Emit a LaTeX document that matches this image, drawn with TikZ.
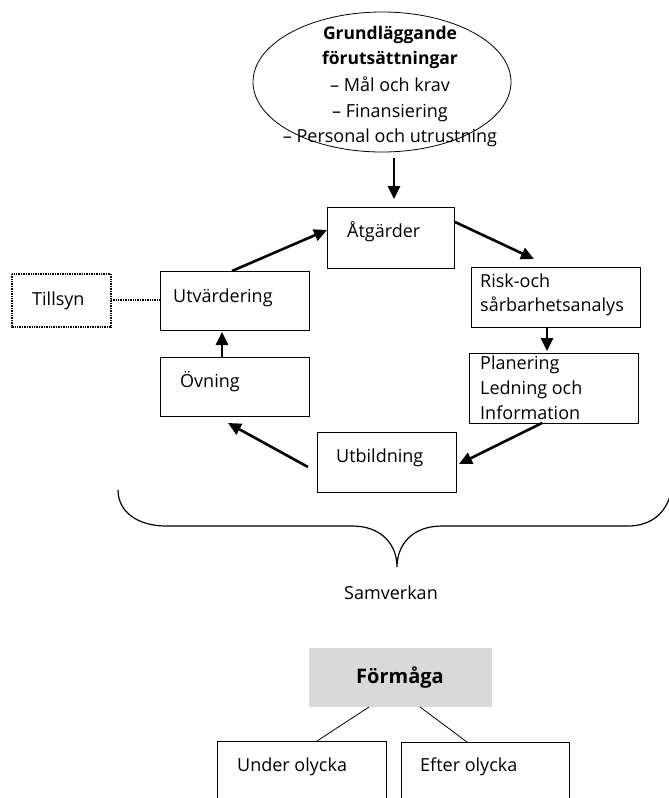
\documentclass[tikz,border=0pt]{standalone}
\usepackage{fontspec}
\setmainfont{Open Sans}
\usetikzlibrary{arrows.meta,shapes.geometric}
\definecolor{boxgray}{HTML}{D9D9D9}
\tikzset{
  bx/.style={draw=black,line width=0.9pt},
  dotline/.style={line width=1.4pt,dash pattern=on 1pt off 0.7pt},
  dbx/.style={draw=black,dotline},
  flow/.style={line width=2.6pt,-{Triangle[length=13pt,width=12pt]}},
  txt/.style={anchor=base west,inner sep=0pt,font=\fontsize{18}{21}\selectfont},
  ctxt/.style={anchor=base,inner sep=0pt,font=\fontsize{18}{21}\selectfont},
}
\begin{document}
\begin{tikzpicture}[x=1pt,y=-1pt]
\useasboundingbox (0,0) rectangle (669,798);
% ellipse
\node[draw=black,line width=0.8pt,ellipse,minimum width=258pt,minimum height=140pt] (ell) at (382,82) {};
\node[ctxt,font=\fontsize{17.5}{21}\selectfont\bfseries] (e1) at (390,39) {Grundläggande};
\node[ctxt,font=\fontsize{17.5}{21}\selectfont\bfseries] (e2) at (390,64) {förutsättningar};
\node[ctxt] (e3) at (390,91) {– Mål och krav};
\node[ctxt] (e4) at (390,117) {– Finansiering};
\node[ctxt] (e5) at (390,142) {– Personal och utrustning};
% boxes
\path[bx] (327,207) rectangle (454,268);
\node[txt] (atg) at (347,237) {Åtgärder};
\path[bx] (471,267) rectangle (640,327);
\node[txt] (risk1) at (480,287) {Risk-och};
\node[txt] (risk2) at (480,311) {sårbarhetsanalys};
\path[bx] (469,353) rectangle (638,423);
\node[txt] (plan1) at (480,369) {Planering};
\node[txt] (plan2) at (480,394) {Ledning och};
\node[txt] (plan3) at (480,419) {Information};
\path[bx] (317,432) rectangle (456,492);
\node[txt] (utb) at (336,462) {Utbildning};
\path[bx] (160,357) rectangle (309,416);
\node[txt] (ovn) at (180,387) {Övning};
\path[bx] (160,271) rectangle (309,330);
\node[txt] (utv) at (173,302) {Utvärdering};
\path[dbx] (12,274) rectangle (111,327);
\node[txt] (till) at (32,305) {Tillsyn};
% connector coordinates
\coordinate (a0) at (394,158); \coordinate (a1) at (394,199);
\coordinate (b0) at (455,222); \coordinate (b1) at (534,259);
\coordinate (c0) at (547,327); \coordinate (c1) at (547,351);
\coordinate (d0) at (542,423); \coordinate (d1) at (459,464);
\coordinate (f0) at (308,467); \coordinate (f1) at (228,423);
\coordinate (g0) at (222,357); \coordinate (g1) at (222,332);
\coordinate (h0) at (232,271); \coordinate (h1) at (327,230);
\coordinate (t0) at (111,300); \coordinate (t1) at (160,300);
\draw[flow] (a0) -- (a1);
\draw[flow] (b0) -- (b1);
\draw[flow] (c0) -- (c1);
\draw[flow] (d0) -- (d1);
\draw[flow] (f0) -- (f1);
\draw[flow] (g0) -- (g1);
\draw[flow] (h0) -- (h1);
\draw[dotline] (t0) -- (t1);
% brace
\draw[line width=1.2pt] (118,490) .. controls (118,512) and (138,526) .. (166,526) -- (352,526)
  .. controls (382,526) and (397,545) .. (397,567)
  .. controls (397,545) and (412,526) .. (442,526) -- (628,526)
  .. controls (652,526) and (668,512) .. (672,488);
\node[ctxt] (sam) at (391,599) {Samverkan};
% Formaga
\node[fill=boxgray,minimum width=183pt,minimum height=59pt,inner sep=0pt] (form) at (400.5,677.5) {};
\node[ctxt,font=\fontsize{20}{24}\selectfont\bfseries] (formt) at (400,683) {Förmåga};
\path[bx] (217,741) rectangle (386,805);
\node[txt] (under) at (237,771) {Under olycka};
\path[bx] (401,742) rectangle (569,805);
\node[txt] (efter) at (420,771) {Efter olycka};
\coordinate (l0) at (369,707); \coordinate (l1) at (317,741);
\coordinate (m0) at (420,707); \coordinate (m1) at (467,742);
\draw[line width=0.8pt] (l0) -- (l1);
\draw[line width=0.8pt] (m0) -- (m1);
\end{tikzpicture}
\end{document}
